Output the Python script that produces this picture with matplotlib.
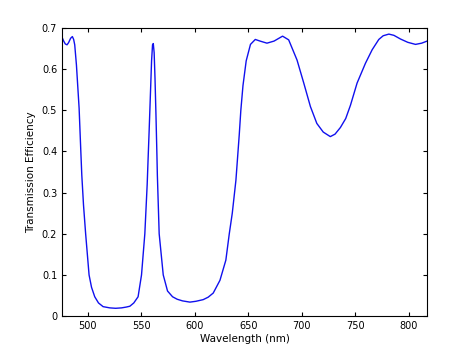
import matplotlib.pyplot as plt

# wavelength (nm) and transmission efficiency
wavelength = [476, 477.5, 479, 480.6, 482, 484, 485.6, 486.8, 487.8, 489.4, 491.9, 493.5,
              494.4, 496, 498, 501.2, 503.5, 506.5, 510, 514.3, 520.6, 526, 531.5, 536,
              539.3, 543, 547, 550.2, 553.3, 555.5, 556.4, 557.3, 558.6, 559.6, 560.5,
              561.2, 562, 562.8, 563.7, 564.6, 565, 566.7, 570.5, 574.5, 579.2, 583.5,
              588.5, 595.4, 601, 607.8, 612.5, 617.2, 623.5, 629, 632.2, 635, 638.4,
              641.5, 643, 645, 648, 652, 656.5, 661, 667.4, 674, 682, 687.7, 695.5,
              701.8, 708, 714, 720, 726.6, 731, 736, 741, 745.4, 751.6, 759.4, 765.7,
              771.9, 776, 781.3, 786, 792.2, 799, 806.2, 812, 817]
efficiency = [0.677, 0.668, 0.661, 0.659, 0.664, 0.675, 0.679, 0.672, 0.659, 0.61, 0.505,
              0.4, 0.343, 0.27, 0.2, 0.1, 0.07, 0.047, 0.032, 0.023, 0.02, 0.019, 0.02, 0.022,
              0.024, 0.032, 0.047, 0.1, 0.2, 0.32, 0.385, 0.448, 0.545, 0.62, 0.659,
              0.662, 0.64, 0.578, 0.489, 0.391, 0.343, 0.2, 0.1, 0.061, 0.047, 0.041,
              0.037, 0.034, 0.036, 0.04, 0.046, 0.056, 0.087, 0.136, 0.2, 0.25, 0.33,
              0.44, 0.5, 0.56, 0.62, 0.66, 0.672, 0.668, 0.663, 0.668, 0.68,
              0.671, 0.622, 0.566, 0.509, 0.468, 0.447, 0.436, 0.442, 0.458, 0.48, 0.512,
              0.566, 0.614, 0.647, 0.672, 0.681, 0.685, 0.682, 0.673, 0.665, 0.66, 0.663, 0.668]

fig = plt.figure(figsize=(4.74, 3.58), dpi=100)
ax = fig.add_axes([0.131, 0.117, 0.77, 0.805])

ax.plot(wavelength, efficiency, color='#1010ee', linewidth=1.0)

ax.set_xlim(476, 817)
ax.set_ylim(0, 0.7)
ax.set_xticks([500, 550, 600, 650, 700, 750, 800])
ax.set_yticks([0, 0.1, 0.2, 0.3, 0.4, 0.5, 0.6, 0.7])
ax.set_yticklabels(['0', '0.1', '0.2', '0.3', '0.4', '0.5', '0.6', '0.7'])
ax.tick_params(direction='in', top=True, right=True, labelsize=7, length=3, width=0.8)
for s in ax.spines.values():
    s.set_linewidth(0.8)

ax.set_xlabel('Wavelength (nm)', fontsize=7.5, labelpad=2)
ax.set_ylabel('Transmission Efficiency', fontsize=7.5, labelpad=4)

fig.savefig('out.png', dpi=100)
